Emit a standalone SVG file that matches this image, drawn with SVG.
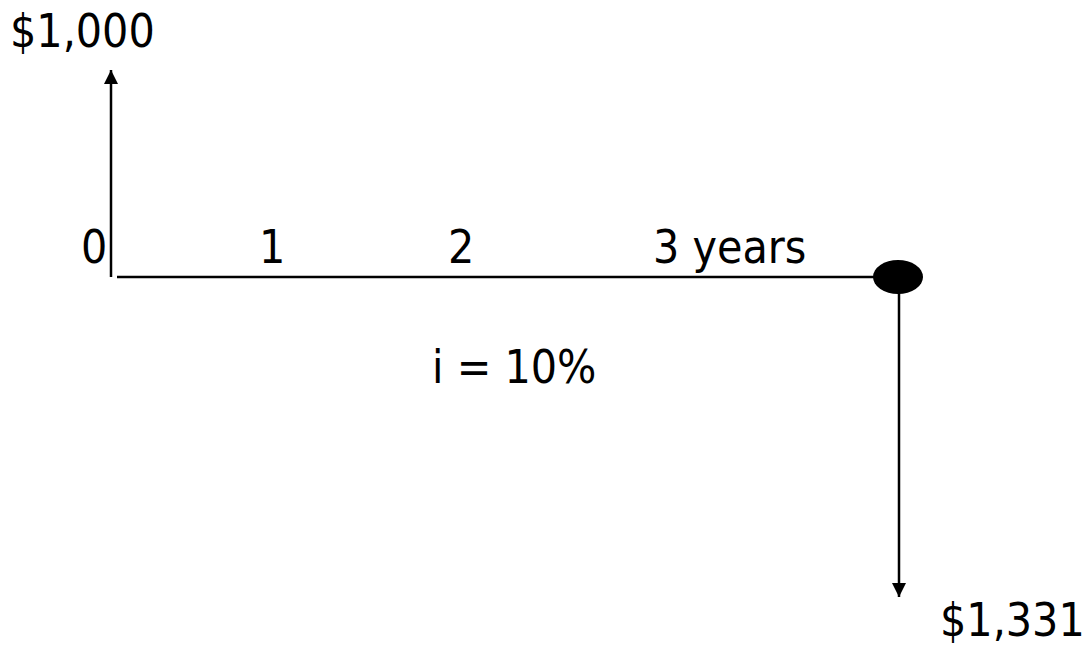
<svg xmlns="http://www.w3.org/2000/svg" width="1088" height="649" viewBox="0 0 1088 649">
<style>
text{font-family:"DejaVu Sans Condensed","DejaVu Sans",sans-serif;font-stretch:condensed;font-size:46px;fill:#000}
.ln{stroke:#000;stroke-width:2.5;fill:none}
</style>
<defs>
<marker id="ah" viewBox="0 0 10 10" refX="10" refY="5" markerWidth="16" markerHeight="14" markerUnits="userSpaceOnUse" orient="auto">
<path d="M0,0 L10,5 L0,10 z" fill="#000"/>
</marker>
</defs>
<g id="connectors">
<line class="ln" x1="111" y1="277" x2="111" y2="70" marker-end="url(#ah)"/>
<line class="ln" x1="117" y1="277" x2="880" y2="277"/>
<line class="ln" x1="899" y1="277" x2="899" y2="597" marker-end="url(#ah)"/>
</g>
<g id="node-future">
<ellipse cx="898" cy="277" rx="25" ry="17" fill="#000"/>
</g>
<g id="labels">
<text x="10" y="47">$1,000</text>
<text x="81" y="263">0</text>
<text x="259" y="263">1</text>
<text x="448" y="263">2</text>
<text x="653" y="263">3 years</text>
<text x="432" y="383">i = 10%</text>
<text x="940" y="636">$1,331</text>
</g>
</svg>
